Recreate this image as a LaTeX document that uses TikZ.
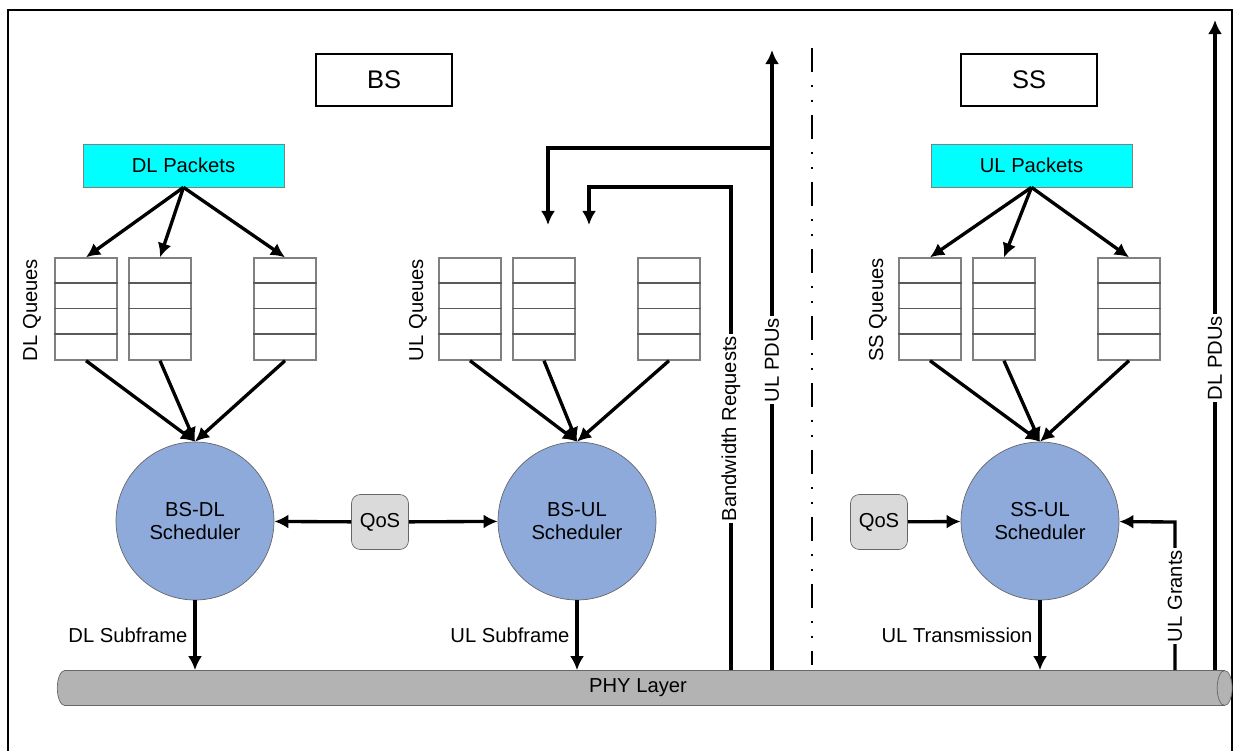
\documentclass[tikz,border=0pt]{standalone}
\usepackage{fontspec}
\setmainfont{Liberation Sans}
\usetikzlibrary{shapes.geometric, arrows.meta}

\definecolor{pktcyan}{HTML}{00FFFF}
\definecolor{schedblue}{HTML}{8EAADB}
\definecolor{qosgray}{HTML}{DADADA}
\definecolor{phygray}{HTML}{B3B3B3}

\begin{document}
\begin{tikzpicture}[x = 0.02cm, y = -0.02cm, > = {Latex[length = 8pt, width = 8pt]},
	every node/.style = {font = \fontsize{11.5}{13.5}\selectfont},
	flow/.style = {line width = 1.9pt},
	title/.style = {draw, line width = 1.1pt, minimum width = 2.72cm, minimum height = 1.04cm, font = \fontsize{14.5}{16}\selectfont},
	packets/.style = {draw = gray, fill = pktcyan, minimum width = 4.02cm, minimum height = 0.86cm},
	queue/.style = {draw = gray, line width = 0.8pt, minimum width = 1.24cm, minimum height = 2.04cm},
	sched/.style = {circle, draw = black!60, fill = schedblue, minimum size = 3.16cm, align = center},
	qos/.style = {draw = black!60, fill = qosgray, rounded corners = 5pt, minimum width = 1.14cm, minimum height = 1.1cm},
	lbl/.style = {fill = white, inner sep = 1pt}]

	% Frame
	
	\useasboundingbox (0, 0) rectangle (1235, 751);
	\draw [line width = 1.2pt] (8, 770) -- (8, 10) -- (1232, 10) -- (1232, 770);

	% Title boxes
	
	\node [title] (bs) at (384, 80) {BS};
	\node [title] (ss) at (1029, 80) {SS};

	% Packet sources
	
	\node [packets] (dlpk) at (183.5, 165.5) {DL Packets};
	\node [packets] (ulpk) at (1031.5, 165.5) {UL Packets};

	% Queues + cells
	
	\foreach \q/\x in {dq1/86, dq2/160, dq3/285, uq1/470, uq2/544, uq3/669, sq1/930, sq2/1004, sq3/1129} {
		\node [queue] (\q) at (\x, 309) {};
		\foreach \k in {1, 2, 3}
			\draw [gray!70!black, line width = 0.8pt] ([yshift = {-\k*0.51cm}] \q.north west) -- ([yshift = {-\k*0.51cm}] \q.north east);
	}
	
	\node [rotate = 90] (dlql) at (32, 310) {DL Queues};
	\node [rotate = 90] (ulql) at (418, 310) {UL Queues};
	\node [rotate = 90] (sql) at (878, 310) {SS Queues};

	% Schedulers + QoS
	
	\node [sched] (bsdl) at (195, 521) {BS-DL\\Scheduler};
	\node [sched] (bsul) at (577, 521) {BS-UL\\Scheduler};
	\node [sched] (ssul) at (1040, 521) {SS-UL\\Scheduler};
	
	\node [qos] (qos1) at (380, 522) {QoS};
	\node [qos] (qos2) at (879, 522) {QoS};

	% PHY layer
	
	\node [cylinder, draw = black!60, fill = phygray, minimum height = 23.5cm, minimum width = 0.7cm, aspect = 0.5] (phy) at (638, 688) {PHY Layer};

	% Packets -> queues -> schedulers
	
	\foreach \q in {dq1, dq2, dq3} {
		\draw [flow, ->] (dlpk.south) -- (\q.north);
		\draw [flow, ->] (\q.south) -- (bsdl.north);
	}
	\foreach \q in {uq1, uq2, uq3}
		\draw [flow, ->] (\q.south) -- (bsul.north);
	\foreach \q in {sq1, sq2, sq3} {
		\draw [flow, ->] (ulpk.south) -- (\q.north);
		\draw [flow, ->] (\q.south) -- (ssul.north);
	}

	% QoS links
	
	\draw [flow, ->] (qos1) -- (bsdl);
	\draw [flow, ->] (qos1) -- (bsul);
	\draw [flow, ->] (qos2) -- (ssul);

	% Schedulers -> PHY
	
	\draw [flow, ->] (bsdl) -- node [left] {DL Subframe} (phy.north -| bsdl);
	\draw [flow, ->] (bsul) -- node [left] {UL Subframe} (phy.north -| bsul);
	\draw [flow, ->] (ssul) -- node [left] {UL Transmission} (phy.north -| ssul);

	% PHY feedback lines
	
	\coordinate (ulpdu) at (772, 50);
	\coordinate (ulbranch) at (772, 148);
	\coordinate (ulin) at (548, 225);
	\coordinate (bwtop) at (731, 187);
	\coordinate (bwin) at (589, 225);
	\coordinate (grants) at (1175, 522);
	\coordinate (dlpdu) at (1215, 20);
	
	\draw [flow, ->] (phy.north -| ulpdu) -- node [lbl, rotate = 90] {UL PDUs} (ulpdu);
	\draw [flow, ->] (ulbranch) -| (ulin);
	\draw [flow, ->] (phy.north -| bwtop) -- node [lbl, rotate = 90] {Bandwidth Requests} (bwtop) -| (bwin);
	\draw [flow, ->] (phy.north -| grants) -- node [lbl, rotate = 90] {UL Grants} (grants) -- (ssul);
	\draw [flow, ->] (phy.north -| dlpdu) -- node [lbl, rotate = 90, pos = 0.48] {DL PDUs} (dlpdu);

	% BS | SS divider
	
	\draw [line width = 1.6pt, dash pattern = on 0.48cm off 0.26cm on 0.04cm off 0.26cm on 0.04cm off 0.26cm] (812, 48) -- (812, 665);

\end{tikzpicture}
\end{document}
